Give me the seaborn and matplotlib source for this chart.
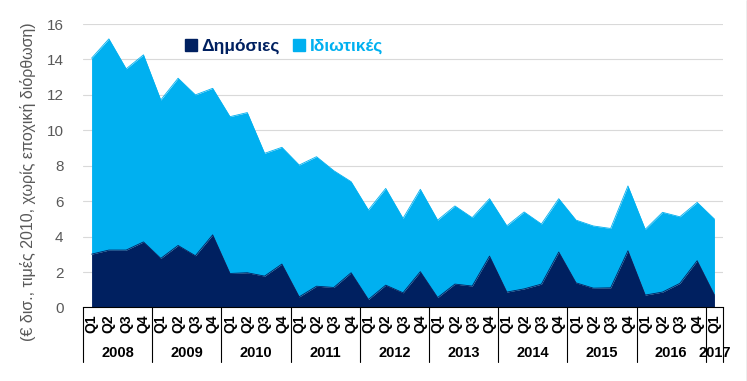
import numpy as np
import pandas as pd
import matplotlib
matplotlib.use('Agg')
import matplotlib.pyplot as plt
from matplotlib.lines import Line2D
import seaborn as sns

# data (€ bn, 2010 prices)
years = ['2008', '2009', '2010', '2011', '2012', '2013', '2014', '2015', '2016', '2017']
quarters = ['Q1', 'Q2', 'Q3', 'Q4'] * 9 + ['Q1']

total = [14.07, 15.16, 13.47, 14.26, 11.71, 12.94, 12.00, 12.37,
         10.77, 11.00, 8.70, 9.04, 8.04, 8.51, 7.72, 7.10,
         5.50, 6.72, 5.03, 6.67, 4.93, 5.73, 5.07, 6.14,
         4.61, 5.39, 4.71, 6.14, 4.93, 4.60, 4.46, 6.86,
         4.41, 5.37, 5.12, 5.93, 4.99]
public = [3.01, 3.24, 3.24, 3.70, 2.77, 3.50, 2.92, 4.10,
          1.92, 1.96, 1.77, 2.45, 0.60, 1.20, 1.13, 1.96,
          0.45, 1.26, 0.83, 2.02, 0.56, 1.32, 1.21, 2.90,
          0.87, 1.05, 1.32, 3.13, 1.39, 1.09, 1.11, 3.20,
          0.70, 0.87, 1.36, 2.64, 0.70]

df = pd.DataFrame({'idx': np.arange(len(total)), 'public': public, 'total': total})
df['private'] = df['total'] - df['public']

navy = '#002060'
light = '#00B0F0'
grey = '#595959'

sns.set_theme(style='white')
plt.rcParams['font.family'] = ['Liberation Sans', 'DejaVu Sans']

fig = plt.figure(figsize=(7.47, 3.81), dpi=100)
ax = fig.add_axes([0.111, 0.193, 0.857, 0.744])

ax.fill_between(df['idx'], df['public'], df['total'], color=light, lw=0, label='Ιδιωτικές')
ax.fill_between(df['idx'], 0, df['public'], color=navy, lw=0, label='Δημόσιες')
sns.lineplot(data=df, x='idx', y='total', ax=ax, color=light, lw=0.6, legend=False)
sns.lineplot(data=df, x='idx', y='public', ax=ax, color=navy, lw=0.6, legend=False)

ax.set_xlim(-0.5, len(total) - 0.5)
ax.set_ylim(0, 16)
ax.set_yticks(range(0, 17, 2))
ax.yaxis.grid(True, color='#d9d9d9', lw=0.8)
ax.set_axisbelow(True)
for s in ['left', 'right', 'top']:
    ax.spines[s].set_visible(False)
ax.spines['bottom'].set_color('black')
ax.spines['bottom'].set_linewidth(0.8)

ax.set_xticks(df['idx'])
ax.set_xticklabels(quarters, rotation=90, fontsize=10, fontweight='bold', color='black')
ax.tick_params(axis='x', length=0, pad=5)
ax.tick_params(axis='y', length=0, pad=14, labelsize=11, labelcolor=grey)
ax.set_xlabel('')
ax.set_ylabel('')

# year separators and labels below the axis
trans = ax.get_xaxis_transform()
for k in range(len(years)):
    x0 = 4 * k - 0.5
    ax.add_line(Line2D([x0, x0], [0, -0.192], transform=trans, color='black', lw=0.8, clip_on=False))
    xc = min(4 * k + 1.5, len(total) - 1)
    ax.text(xc, -0.161, years[k], transform=trans, ha='center', va='center',
            fontsize=10.5, fontweight='bold', color='black')
ax.add_line(Line2D([len(total) - 0.5] * 2, [0, -0.192], transform=trans, color='black', lw=0.8, clip_on=False))

fig.text(28 / 747, 0.524, '(€ δισ., τιμές 2010, χωρίς εποχική διόρθωση)', rotation=90,
         ha='center', va='center', fontsize=11.5, color=grey)

handles = [Line2D([], [], marker='s', ls='', color=navy, markersize=8),
           Line2D([], [], marker='s', ls='', color=light, markersize=8)]
leg = ax.legend(handles, ['Δημόσιες', 'Ιδιωτικές'], loc='center', bbox_to_anchor=(0.315, 0.92),
                ncol=2, frameon=False, handlelength=0.6, handletextpad=0.3, columnspacing=0.8,
                prop={'weight': 'bold', 'size': 12.5})
for t, c in zip(leg.get_texts(), [navy, light]):
    t.set_color(c)

fig.add_artist(Line2D([746.5 / 747] * 2, [0, 1], color='#a6a6a6', lw=1))

fig.savefig('out.png', dpi=100)
